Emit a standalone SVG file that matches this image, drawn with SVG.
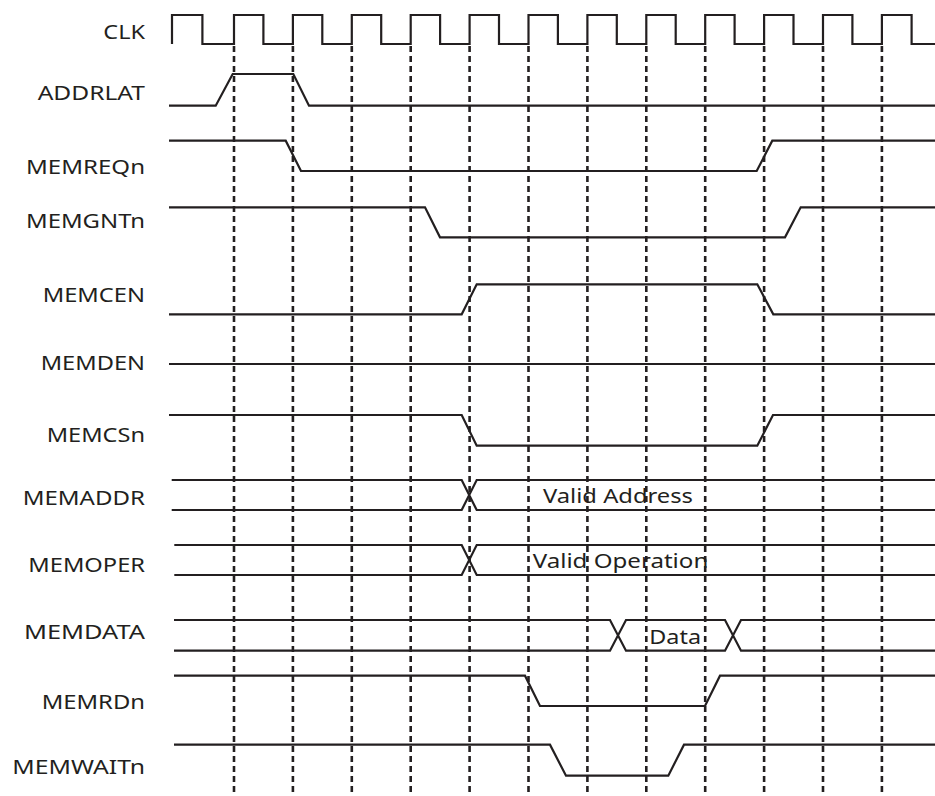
<svg xmlns="http://www.w3.org/2000/svg" width="935" height="796" viewBox="0 0 935 796">
<style>
.w{fill:none;stroke:#231f20;stroke-width:2.2;stroke-linejoin:miter}
.g{stroke:#231f20;stroke-width:2.6;stroke-dasharray:6 4}
.l{font-family:"Noto Sans","Open Sans","Liberation Sans",sans-serif;font-size:19.5px;fill:#231f20}
</style>
<rect width="935" height="796" fill="#fff"/>
<g id="gridlines">
<line class="g" x1="234" y1="46" x2="234" y2="796"/>
<line class="g" x1="292.9" y1="46" x2="292.9" y2="796"/>
<line class="g" x1="351.8" y1="46" x2="351.8" y2="796"/>
<line class="g" x1="410.7" y1="46" x2="410.7" y2="796"/>
<line class="g" x1="469.6" y1="46" x2="469.6" y2="796"/>
<line class="g" x1="528.5" y1="46" x2="528.5" y2="796"/>
<line class="g" x1="587.4" y1="46" x2="587.4" y2="796"/>
<line class="g" x1="646.3" y1="46" x2="646.3" y2="796"/>
<line class="g" x1="705.2" y1="46" x2="705.2" y2="796"/>
<line class="g" x1="764.1" y1="46" x2="764.1" y2="796"/>
<line class="g" x1="823" y1="46" x2="823" y2="796"/>
<line class="g" x1="881.9" y1="46" x2="881.9" y2="796"/>
</g>
<g id="clk">
<text class="l" x="103.3" y="39" textLength="41.7" lengthAdjust="spacingAndGlyphs">CLK</text>
<path class="w" d="M172,44 V15 H202.4 V44 H234 V15 H263.4 V44 H292.9 V15 H322.3 V44 H351.8 V15 H381.2 V44 H410.7 V15 H440.1 V44 H469.6 V15 H499 V44 H528.5 V15 H557.9 V44 H587.4 V15 H616.8 V44 H646.3 V15 H675.7 V44 H705.2 V15 H734.6 V44 H764.1 V15 H793.5 V44 H823 V15 H852.4 V44 H881.9 V15 H911.6 V44 H935"/>
</g>
<g id="addrlat">
<text class="l" x="37.7" y="100" textLength="107.3" lengthAdjust="spacingAndGlyphs">ADDRLAT</text>
<path class="w" d="M169,105.7 H215.7 L232.7,74 H293.3 L309,105.7 H935"/>
</g>
<g id="memreqn">
<text class="l" x="26" y="174" textLength="119" lengthAdjust="spacingAndGlyphs">MEMREQn</text>
<path class="w" d="M169,140.7 H285.7 L301,171 H756.7 L772.3,140.7 H935"/>
</g>
<g id="memgntn">
<text class="l" x="26" y="228" textLength="119" lengthAdjust="spacingAndGlyphs">MEMGNTn</text>
<path class="w" d="M169,207.3 H425 L440,237.3 H785 L800.7,207.3 H935"/>
</g>
<g id="memcen">
<text class="l" x="42.7" y="301.7" textLength="102.3" lengthAdjust="spacingAndGlyphs">MEMCEN</text>
<path class="w" d="M169,314.3 H461.7 L476.7,284.3 H757.3 L773.3,314.3 H935"/>
</g>
<g id="memden">
<text class="l" x="40.7" y="370" textLength="104.3" lengthAdjust="spacingAndGlyphs">MEMDEN</text>
<path class="w" d="M169,364 H935"/>
</g>
<g id="memcsn">
<text class="l" x="46.7" y="441.7" textLength="98.3" lengthAdjust="spacingAndGlyphs">MEMCSn</text>
<path class="w" d="M169,415 H461.7 L476.7,445.7 H757.3 L773,415 H935"/>
</g>
<g id="memaddr">
<text class="l" x="22.7" y="505" textLength="122.3" lengthAdjust="spacingAndGlyphs">MEMADDR</text>
<path class="w" d="M171.7,480 H461.7 L476.7,510 H935 M171.7,510 H461.7 L476.7,480 H935"/>
<text class="l" x="543" y="503.3" textLength="150" lengthAdjust="spacingAndGlyphs">Valid Address</text>
</g>
<g id="memoper">
<text class="l" x="28.3" y="571.7" textLength="116.7" lengthAdjust="spacingAndGlyphs">MEMOPER</text>
<path class="w" d="M174.3,545 H461.7 L476.7,575 H935 M174.3,575 H461.7 L476.7,545 H935"/>
<text class="l" x="532.7" y="568.3" textLength="175.6" lengthAdjust="spacingAndGlyphs">Valid Operation</text>
</g>
<g id="memdata">
<text class="l" x="24" y="639.3" textLength="121" lengthAdjust="spacingAndGlyphs">MEMDATA</text>
<path class="w" d="M174,620 H610 L626,650.7 H725 L741,620 H935 M174,650.7 H610 L626,620 H725 L741,650.7 H935"/>
<text class="l" x="649.3" y="644" textLength="51.7" lengthAdjust="spacingAndGlyphs">Data</text>
</g>
<g id="memrdn">
<text class="l" x="41.7" y="709.3" textLength="103.3" lengthAdjust="spacingAndGlyphs">MEMRDn</text>
<path class="w" d="M174,675.7 H525 L540,706 H705 L720,675.7 H935"/>
</g>
<g id="memwaitn">
<text class="l" x="12.3" y="774" textLength="132.7" lengthAdjust="spacingAndGlyphs">MEMWAITn</text>
<path class="w" d="M174,744.7 H550 L566,775.7 H668.3 L684,744.7 H935"/>
</g>
</svg>
